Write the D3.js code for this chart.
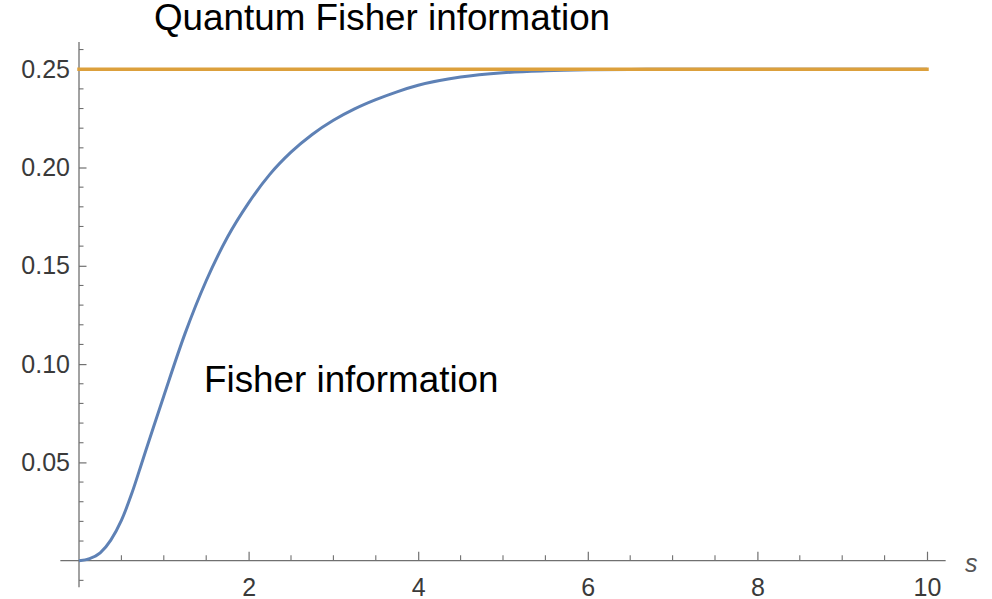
<html>
<head>
<title>Fisher information</title>
<style>
  body { margin: 0; background: #fff; }
  svg { font-family: "Liberation Sans", Arial, sans-serif; }
</style>
</head>
<body>
<svg></svg>
<script src="https://d3js.org/d3.v7.min.js"></script>
<script>
// data
var sValues = [0, 0.125, 0.25, 0.375, 0.5, 0.625, 0.75, 0.875, 1.0, 1.25, 1.5, 1.75, 2.0, 2.25, 2.5, 2.75, 3.0, 3.25, 3.5, 3.75, 4.0, 4.5, 5.0, 5.5, 6.0, 6.5, 7.0, 8.0, 9.0, 10.0];
var fisherValues = [0, 0.0011, 0.0040, 0.0105, 0.0205, 0.0345, 0.0510, 0.0675, 0.0838, 0.1155, 0.1424, 0.1645, 0.1820, 0.1965, 0.2078, 0.2168, 0.2240, 0.2298, 0.2345, 0.2385, 0.2418, 0.2460, 0.2482, 0.2492, 0.2497, 0.2499, 0.2500, 0.2500, 0.2500, 0.2500];
var quantumS = [0, 10];
var quantumValues = [0.25, 0.25];
var xTickValues = [2, 4, 6, 8, 10];
var yTickValues = [0.05, 0.10, 0.15, 0.20, 0.25];
var xMinorTicks = d3.range(0.5, 10.01, 0.5).filter(function(v){ return xTickValues.indexOf(v) < 0; });
var yMinorTicks = d3.range(-0.01, 0.265, 0.01).filter(function(v){
  return yTickValues.every(function(t){ return Math.abs(t - v) > 1e-6; }) && Math.abs(v) > 1e-6;
});

var width = 992, height = 599;
var svg = d3.select("svg").attr("width", width).attr("height", height);

var x = d3.scaleLinear().domain([0, 10]).range([79, 927]);
var y = d3.scaleLinear().domain([0, 0.25]).range([560.7, 69.2]);

var axisColor = "#707070";
var labelColor = "#3a3a3a";

// axis lines (longer than the data range, like the original)
svg.append("line")
  .attr("x1", x(-0.22)).attr("x2", x(10.22))
  .attr("y1", y(0)).attr("y2", y(0))
  .attr("stroke", axisColor).attr("stroke-width", 1.3);
svg.append("line")
  .attr("x1", x(0)).attr("x2", x(0))
  .attr("y1", y(-0.0135)).attr("y2", y(0.2638))
  .attr("stroke", axisColor).attr("stroke-width", 1.3);

// x axis ticks
var gx = svg.append("g").attr("transform", "translate(0," + y(0) + ")");
gx.call(d3.axisBottom(x).tickValues(xTickValues).tickFormat(d3.format("d"))
    .tickSize(-9).tickPadding(17.5));
gx.selectAll(".domain").remove();
gx.selectAll(".tick line").attr("stroke", axisColor).attr("stroke-width", 1.2);
gx.selectAll(".tick text").attr("font-size", 25).attr("fill", labelColor)
  .attr("font-family", "Liberation Sans, Arial, sans-serif");
gx.selectAll(".minor").data(xMinorTicks).enter().append("line")
  .attr("class", "minor")
  .attr("x1", function(d){ return x(d); }).attr("x2", function(d){ return x(d); })
  .attr("y1", 0).attr("y2", -5.5)
  .attr("stroke", axisColor).attr("stroke-width", 1.1);

// y axis ticks
var gy = svg.append("g").attr("transform", "translate(" + x(0) + ",0)");
gy.call(d3.axisLeft(y).tickValues(yTickValues).tickFormat(d3.format(".2f"))
    .tickSize(-7.5).tickPadding(9));
gy.selectAll(".domain").remove();
gy.selectAll(".tick line").attr("stroke", axisColor).attr("stroke-width", 1.2);
gy.selectAll(".tick text").attr("font-size", 25).attr("fill", labelColor)
  .attr("font-family", "Liberation Sans, Arial, sans-serif");
gy.selectAll(".minor").data(yMinorTicks).enter().append("line")
  .attr("class", "minor")
  .attr("x1", 0).attr("x2", 4.5)
  .attr("y1", function(d){ return y(d); }).attr("y2", function(d){ return y(d); })
  .attr("stroke", axisColor).attr("stroke-width", 1.1);

// axis label
svg.append("text")
  .attr("x", 965).attr("y", 572)
  .attr("font-size", 25).attr("font-style", "italic")
  .attr("fill", "#555")
  .text("s");

// curves
var fisherData = sValues.map(function(s, i){ return [s, fisherValues[i]]; });
var quantumData = quantumS.map(function(s, i){ return [s, quantumValues[i]]; });

var line = d3.line()
  .x(function(d){ return x(d[0]); })
  .y(function(d){ return y(d[1]); })
  .curve(d3.curveMonotoneX);

svg.append("path").datum(fisherData)
  .attr("d", line)
  .attr("fill", "none")
  .attr("stroke", "#5e81b5")
  .attr("stroke-width", 3);

svg.append("path").datum(quantumData)
  .attr("d", line)
  .attr("fill", "none")
  .attr("stroke", "#dca03c")
  .attr("stroke-width", 3.5)
  .attr("stroke-linecap", "square");

// text labels
svg.append("text")
  .attr("x", 154).attr("y", 30)
  .attr("font-size", 36.8).attr("fill", "#000")
  .text("Quantum Fisher information");

svg.append("text")
  .attr("x", 204).attr("y", 392)
  .attr("font-size", 36.8).attr("fill", "#000")
  .text("Fisher information");
</script>
</body>
</html>
